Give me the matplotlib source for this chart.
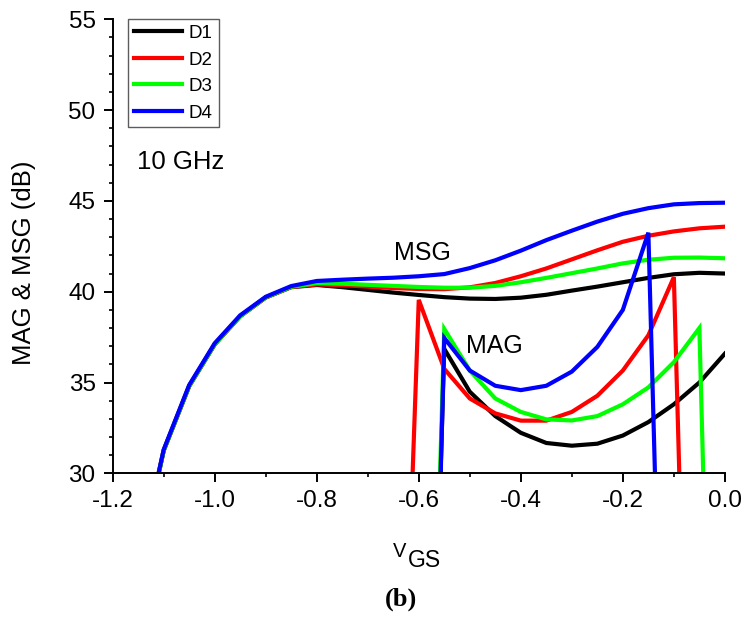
import matplotlib
matplotlib.use("Agg")
import matplotlib.pyplot as plt
import numpy as np
from matplotlib.ticker import MultipleLocator

plt.rcParams['font.family'] = ['Liberation Sans', 'DejaVu Sans']

# gate voltage grid for the MSG sweeps
vgs_msg = [-1.15, -1.10, -1.05, -1.00, -0.95, -0.90, -0.85, -0.80, -0.75, -0.70,
           -0.65, -0.60, -0.55, -0.50, -0.45, -0.40, -0.35, -0.30, -0.25, -0.20,
           -0.15, -0.10, -0.05, 0.00]

msg_d1 = [24.8, 31.25, 34.80, 37.10, 38.65, 39.68, 40.25, 40.37, 40.25, 40.10,
          39.95, 39.82, 39.70, 39.62, 39.60, 39.67, 39.83, 40.06, 40.28, 40.52,
          40.76, 40.96, 41.04, 41.00]
msg_d2 = [24.8, 31.25, 34.80, 37.10, 38.65, 39.68, 40.26, 40.40, 40.36, 40.28,
          40.20, 40.15, 40.14, 40.24, 40.48, 40.85, 41.28, 41.78, 42.28, 42.75,
          43.08, 43.32, 43.49, 43.58]
msg_d3 = [24.8, 31.25, 34.80, 37.10, 38.65, 39.69, 40.27, 40.47, 40.44, 40.38,
          40.32, 40.26, 40.22, 40.22, 40.32, 40.52, 40.76, 41.02, 41.28, 41.56,
          41.76, 41.87, 41.88, 41.84]
msg_d4 = [24.9, 31.30, 34.86, 37.16, 38.70, 39.72, 40.31, 40.59, 40.66, 40.72,
          40.77, 40.85, 40.97, 41.30, 41.73, 42.26, 42.84, 43.36, 43.86, 44.29,
          44.60, 44.81, 44.88, 44.90]

# MAG only exists where the device is unconditionally stable;
# the end points fall far below the plotted range
vgs_mag_d1 = [-0.60, -0.55, -0.50, -0.45, -0.40, -0.35, -0.30, -0.25, -0.20,
              -0.15, -0.10, -0.05, 0.00]
mag_d1 = [-10.0, 36.85, 34.49, 33.15, 32.23, 31.67, 31.52, 31.63, 32.08,
          32.82, 33.80, 35.00, 36.59]

vgs_mag_d2 = [-0.65, -0.60, -0.55, -0.50, -0.45, -0.40, -0.35, -0.30, -0.25,
              -0.20, -0.15, -0.10, -0.05]
mag_d2 = [0.0, 39.55, 35.75, 34.12, 33.30, 32.90, 32.90, 33.38, 34.27,
          35.66, 37.60, 40.80, -10.0]

vgs_mag_d3 = [-0.60, -0.55, -0.50, -0.45, -0.40, -0.35, -0.30, -0.25, -0.20,
              -0.15, -0.10, -0.05, 0.00]
mag_d3 = [-10.0, 37.95, 35.66, 34.12, 33.38, 32.97, 32.91, 33.15, 33.80,
          34.73, 36.12, 38.00, -15.0]

vgs_mag_d4 = [-0.60, -0.55, -0.50, -0.45, -0.40, -0.35, -0.30, -0.25, -0.20,
              -0.15, -0.10]
mag_d4 = [-16.0, 37.45, 35.66, 34.82, 34.58, 34.82, 35.60, 36.96, 39.00,
          43.25, -8.0]

labels = ['D1', 'D2', 'D3', 'D4']
colors = ['#000000', '#ff0000', '#00ff00', '#0000ff']
msg_all = [msg_d1, msg_d2, msg_d3, msg_d4]
mag_x_all = [vgs_mag_d1, vgs_mag_d2, vgs_mag_d3, vgs_mag_d4]
mag_all = [mag_d1, mag_d2, mag_d3, mag_d4]

fig = plt.figure(figsize=(7.46, 6.2), dpi=100)
ax = fig.add_axes([0.151, 0.2366, 0.8207, 0.7323])

for lab, col, msg, mx, mag in zip(labels, colors, msg_all, mag_x_all, mag_all):
    ax.plot(vgs_msg, msg, color=col, lw=3.0, label=lab, solid_joinstyle='miter')
    ax.plot(mx, mag, color=col, lw=3.0, solid_joinstyle='miter')

ax.set_xlim(-1.2, 0.0)
ax.set_ylim(30, 55)
ax.xaxis.set_major_locator(MultipleLocator(0.2))
ax.xaxis.set_minor_locator(MultipleLocator(0.1))
ax.yaxis.set_major_locator(MultipleLocator(5))
ax.yaxis.set_minor_locator(MultipleLocator(1))
ax.xaxis.set_major_formatter(matplotlib.ticker.FormatStrFormatter('%.1f'))

for side in ['top', 'right']:
    ax.spines[side].set_visible(False)
for side in ['left', 'bottom']:
    ax.spines[side].set_linewidth(1.4)

ax.tick_params(which='major', direction='out', length=6.3, width=1.4,
               labelsize=17.5, pad=6)
ax.tick_params(which='minor', direction='out', length=2.6, width=1.2)

ax.set_ylabel('MAG & MSG (dB)', fontsize=18.5)
ax.yaxis.set_label_coords(-0.125, 0.463)

leg = ax.legend(loc='upper left', bbox_to_anchor=(0.025, 1.0), borderaxespad=0,
                fontsize=13.5, handlelength=2.6, handletextpad=0.35,
                labelspacing=0.5, borderpad=0.3, fancybox=False,
                frameon=True)
leg.get_frame().set_edgecolor('#333333')
leg.get_frame().set_linewidth(1.0)

ax.text(-1.152, 46.76, '10 GHz', fontsize=18.5, va='baseline', ha='left')
ax.text(-0.593, 41.73, 'MSG', fontsize=18, va='baseline', ha='center')
ax.text(-0.451, 36.63, 'MAG', fontsize=18, va='baseline', ha='center')

# x axis title: V with subscript GS
fig.text(0.5268, 0.1016, 'V', fontsize=14.5, va='baseline', ha='left')
fig.text(0.547, 0.0855, 'GS', fontsize=16.5, va='baseline', ha='left')

fig.text(0.5375, 0.0226, '(b)', fontsize=19, fontweight='bold',
         family='Liberation Serif', va='baseline', ha='center')

fig.savefig('out.png', dpi=100)
